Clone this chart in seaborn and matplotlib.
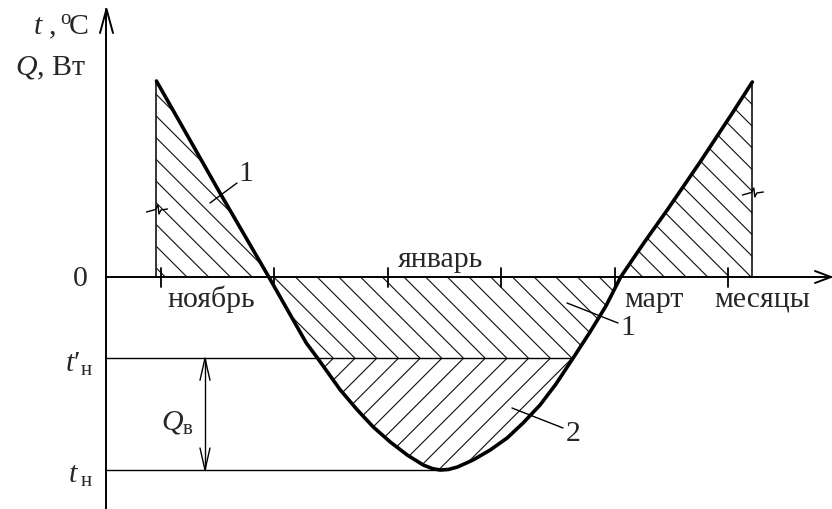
import numpy as np
import pandas as pd
import matplotlib
matplotlib.use("Agg")
import matplotlib.pyplot as plt
from matplotlib.collections import LineCollection
import seaborn as sns

# Outdoor temperature over the heating season
# (month index counted from 1 November, temperature in degrees)
month_pos = [-0.04, 0.52, 0.95, 1.14, 1.28, 1.38, 1.58, 1.73, 1.87, 2.02, 2.17, 2.31,
             2.39, 2.46, 2.53, 2.61, 2.75, 2.90, 3.05, 3.19, 3.34, 3.48, 3.63, 3.78,
             3.92, 4.05, 4.26, 4.46, 4.75, 5.04, 5.21]
temperature = [20.31, 8.70, 0.00, -3.94, -6.84, -8.42, -11.71, -13.78, -15.54, -17.10,
               -18.45, -19.48, -19.85, -20.00, -19.95, -19.70, -18.96, -17.93, -16.68,
               -15.13, -13.26, -11.09, -8.42, -5.70, -3.01, 0.00, 3.63, 6.94, 11.92,
               17.10, 20.21]

month_ticks = [0, 1, 2, 3, 4, 5]
month_labels = ["ноябрь", "январь", "март"]
month_label_pos = [0.44, 2.46, 4.34]
axis_title_pos = 5.30

t_prime = -8.42   # t'н
t_min = -20.0     # tн

# ---- canvas: one axes over the whole figure, pixel-based scale ----
W, H = 832, 509
X0, PXM = 161.0, 113.5     # pixel of month 0, pixels per month
Y0, PXD = 277.0, 9.65      # pixel of 0 degrees, pixels per degree

sns.set_theme(style="white")
plt.rcParams["font.family"] = ["Liberation Serif", "DejaVu Serif"]
plt.rcParams["mathtext.fontset"] = "custom"
plt.rcParams["mathtext.rm"] = "Liberation Serif"
plt.rcParams["mathtext.it"] = "Liberation Serif:italic"
plt.rcParams["mathtext.bf"] = "Liberation Serif:bold"

fig = plt.figure(figsize=(W / 100, H / 100), dpi=100)
ax = fig.add_axes([0, 0, 1, 1])


def P(px, py):
    """Pixel position (from top-left) -> data coordinates."""
    return ((px - X0) / PXM, (Y0 - py) / PXD)


def dx(p):
    return p / PXM


def dy(p):
    return p / PXD


K = "black"
FS = 21.5

df = pd.DataFrame({"month": month_pos, "t": temperature})
sns.lineplot(data=df, x="month", y="t", sort=False, color=K, linewidth=2.6,
             ax=ax, zorder=6, solid_joinstyle="round", solid_capstyle="round")

ax.set_xlim(P(0, 0)[0], P(W, 0)[0])
ax.set_ylim(P(0, H)[1], P(0, 0)[1])
ax.axis("off")

x = np.asarray(month_pos)
y = np.asarray(temperature)

# ---- axes with open arrowheads ----
yaxis_x = P(106.5, 0)[0]
ax.plot([yaxis_x, yaxis_x], [P(0, H)[1], P(0, 9)[1]], color=K, lw=1.4, zorder=4)
ax.plot([yaxis_x - dx(6.5), yaxis_x, yaxis_x + dx(6.5)],
        [P(0, 33)[1], P(0, 9)[1], P(0, 33)[1]], color=K, lw=1.4, zorder=4)
x_end = P(831, 0)[0]
ax.plot([yaxis_x, x_end], [0, 0], color=K, lw=1.4, zorder=4)
ax.plot([x_end - dx(16), x_end, x_end - dx(16)], [dy(6), 0, -dy(6)],
        color=K, lw=1.4, zorder=4)

# month boundary ticks
for m in month_ticks:
    ax.plot([m, m], [dy(9), -dy(10)], color=K, lw=1.3, zorder=4)

# ---- shaded regions ----
reg1 = ax.fill_between(x, 0, np.maximum(y, t_prime), facecolor="none", lw=0)
reg2 = ax.fill_between(x, t_prime, np.minimum(y, t_prime), facecolor="none", lw=0)

to_disp = ax.transData
to_data = ax.transData.inverted()
HS = 21.7                                   # hatch spacing, px
yd_t = to_disp.transform((0, t_prime))[1]   # t'н line in display units
xd_tip = 333.3                              # one of the chevron tips


def hatch(region, sign):
    segs = []
    for k in range(-70, 70):
        if sign < 0:
            b = yd_t + xd_tip + k * HS
            p0, p1 = (-50, b + 50), (W + 50, b - W - 50)
        else:
            b = yd_t - xd_tip - k * HS
            p0, p1 = (-50, b - 50), (W + 50, b + W + 50)
        segs.append(to_data.transform([p0, p1]))
    lc = LineCollection(segs, colors="#1a1a1a", linewidths=0.85, zorder=3)
    lc.set_clip_path(region.get_paths()[0], ax.transData)
    ax.add_collection(lc, autolim=False)


hatch(reg1, -1)
hatch(reg2, +1)

# end verticals of the heating season
for i in (0, -1):
    ax.plot([x[i], x[i]], [0, y[i]], color=K, lw=1.1, zorder=4)


def break_mark(xc, yc):
    offs = [(-10, 2), (-1, -0.5), (1.5, -5), (2.5, 4), (4.5, 0), (11, -1)]
    ax.plot([xc + dx(o[0]) for o in offs], [yc - dy(o[1]) for o in offs],
            color=K, lw=1.0, zorder=5)


break_mark(x[0], P(0, 210)[1])
break_mark(x[-1], P(0, 193)[1])

# levels t'н and tн
right_cross = x[np.where(np.isclose(y, t_prime))[0][-1]]
ax.plot([yaxis_x, right_cross], [t_prime, t_prime], color=K, lw=1.0, zorder=4)
ax.plot([yaxis_x, x[np.argmin(y)]], [t_min, t_min], color=K, lw=1.0, zorder=4)

# Qв dimension arrow
qx = P(205, 0)[0]
ax.plot([qx, qx], [t_prime, t_min], color=K, lw=1.0)
for yt, s in ((t_prime, -1), (t_min, 1)):
    ax.plot([qx - dx(5), qx, qx + dx(5)], [yt + s * dy(22), yt, yt + s * dy(22)],
            color=K, lw=1.0)

# leaders for labels 1 and 2
for a, b in (((210, 203), (237, 183)), ((567, 303), (618, 323)),
             ((512, 408), (563, 428))):
    pa, pb = P(*a), P(*b)
    ax.plot([pa[0], pb[0]], [pa[1], pb[1]], color=K, lw=1.0, zorder=7)

# ---- text ----
ax.text(*P(246, 174), "1", fontsize=FS, ha="center", va="center")
ax.text(*P(628, 328), "1", fontsize=FS, ha="center", va="center")
ax.text(*P(573, 434), "2", fontsize=FS, ha="center", va="center")

ax.text(*P(88, 279), "0", fontsize=FS, ha="right", va="center")
for lab, pos in zip(month_labels, month_label_pos):
    above = lab == "январь"
    ax.text(pos, P(0, 267 if above else 307)[1], lab, fontsize=FS,
            ha="center", va="baseline")
ax.text(axis_title_pos, P(0, 307)[1], "месяцы", fontsize=FS,
        ha="center", va="baseline")

ax.text(*P(88, 35), r"$t\ ,^{\mathrm{o}}\!\mathrm{C}$", fontsize=FS,
        ha="right", va="baseline")
ax.text(*P(86, 75), r"$Q$, Вт", fontsize=FS, ha="right", va="baseline")
ax.text(*P(93, 372), r"$t\prime_{\mathrm{н}}$", fontsize=FS, ha="right", va="baseline")
ax.text(*P(93, 483), r"$t_{\;\mathrm{н}}$", fontsize=FS, ha="right", va="baseline")
ax.text(*P(194, 430), r"$Q_{\mathrm{в}}$", fontsize=FS, ha="right", va="baseline")

fig.savefig("out.png", dpi=100, facecolor="white")
